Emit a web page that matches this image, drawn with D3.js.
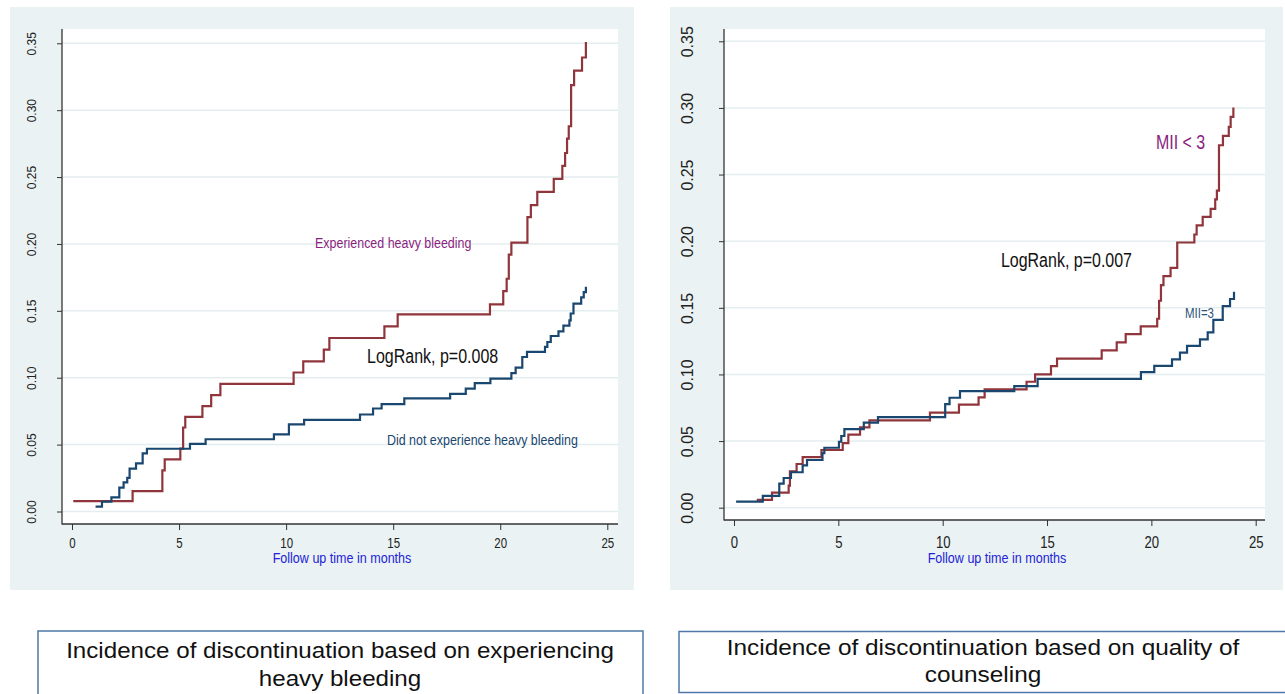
<!DOCTYPE html>
<html>
<head>
<meta charset="utf-8">
<script src="https://cdn.jsdelivr.net/npm/d3@7/dist/d3.min.js"></script>
<style>
  body { margin: 0; background: #fff; }
  svg { display: block; }
  text { font-family: "Liberation Sans", Arial, sans-serif; }
</style>
</head>
<body>
<svg width="1285" height="694"></svg>
<script>
// y ticks and x ticks shared by both graphs
var yTicks = [0, 0.05, 0.10, 0.15, 0.20, 0.25, 0.30, 0.35];
var xTicks = [0, 5, 10, 15, 20, 25];

// left graph: heavy bleeding
var bleedTime = [0.06, 2.83, 4.22, 4.33, 5.06, 5.19, 5.29, 6.09, 6.5, 6.93, 10.35, 10.8, 11.76, 12.02, 14.59, 15.21, 19.52, 20.14, 20.3, 20.4, 20.52, 21.27, 21.43, 21.73, 22.5, 22.9, 23.03, 23.12, 23.2, 23.31, 23.45, 23.82, 24.0];
var bleedInc  = [0.0078, 0.0153, 0.0307, 0.039, 0.047, 0.0628, 0.0708, 0.0787, 0.087, 0.0954, 0.1039, 0.1123, 0.121, 0.1297, 0.1384, 0.1474, 0.1549, 0.1648, 0.174, 0.192, 0.201, 0.220, 0.229, 0.239, 0.2487, 0.2584, 0.268, 0.2787, 0.288, 0.3188, 0.3295, 0.3394, 0.351];
var noBleedTime = [1.1, 1.4, 1.84, 2.21, 2.41, 2.58, 2.69, 2.99, 3.3, 3.5, 5.51, 6.24, 9.43, 10.13, 10.84, 13.45, 14.06, 14.46, 15.52, 17.66, 18.39, 18.81, 19.54, 20.52, 20.72, 21.03, 21.25, 22.09, 22.2, 22.36, 22.72, 22.95, 23.23, 23.29, 23.42, 23.78, 23.9, 24.0];
var noBleedInc  = [0.0036, 0.0073, 0.0106, 0.0178, 0.0218, 0.0252, 0.032, 0.036, 0.0434, 0.0469, 0.0506, 0.054, 0.0576, 0.0651, 0.0685, 0.0725, 0.077, 0.0802, 0.0845, 0.0879, 0.0919, 0.0959, 0.0994, 0.1034, 0.1076, 0.1155, 0.1193, 0.123, 0.1267, 0.1312, 0.1347, 0.139, 0.1429, 0.148, 0.1554, 0.160, 0.164, 0.168];

// right graph: quality of counseling (MII)
var miiLowTime = [1.09, 1.82, 2.62, 2.68, 3.0, 3.29, 4.19, 5.21, 5.48, 6.04, 6.49, 9.39, 10.78, 11.72, 12.01, 14.02, 14.43, 15.19, 15.48, 17.62, 18.34, 18.77, 19.49, 20.28, 20.37, 20.46, 20.58, 20.92, 21.24, 22.06, 22.17, 22.46, 22.84, 23.06, 23.14, 23.24, 23.43, 23.71, 23.8, 23.93];
var miiLowInc  = [0.0058, 0.0113, 0.0165, 0.0273, 0.0328, 0.038, 0.0433, 0.0485, 0.0548, 0.0603, 0.0655, 0.0713, 0.0773, 0.0828, 0.0888, 0.0945, 0.1, 0.1063, 0.1118, 0.118, 0.124, 0.1303, 0.1361, 0.1418, 0.1553, 0.167, 0.1738, 0.18, 0.199, 0.205, 0.2118, 0.2183, 0.2243, 0.2314, 0.238, 0.272, 0.279, 0.2858, 0.2933, 0.3004];
var mii3Time = [0.1, 1.38, 2.17, 2.38, 2.73, 3.29, 3.5, 4.24, 4.33, 5.03, 5.14, 5.29, 6.22, 6.9, 10.12, 10.33, 10.83, 13.43, 14.55, 19.5, 20.14, 20.99, 21.37, 21.71, 22.33, 22.7, 22.97, 23.42, 23.77, 23.96];
var mii3Inc  = [0.0045, 0.0088, 0.018, 0.0223, 0.0266, 0.0318, 0.0358, 0.041, 0.045, 0.0495, 0.0538, 0.059, 0.0638, 0.068, 0.0778, 0.0825, 0.0875, 0.0913, 0.0966, 0.1018, 0.1065, 0.1113, 0.1163, 0.1215, 0.1263, 0.1316, 0.141, 0.1513, 0.1566, 0.162];

var captions = [
  ["Incidence of discontinuation based on experiencing", "heavy bleeding"],
  ["Incidence of discontinuation based on quality of", "counseling"]
];

var red = "#90353b", navy = "#1a476f";
var squeeze = 0.82; // the graphs were squashed sideways in the original
var svg = d3.select("svg");

function zip(t, v) {
  return t.map(function (d, i) { return [d, v[i]]; });
}

function drawPanel(p) {
  var g = svg.append("g");

  // grey graph region and white plot region
  g.append("rect").attr("x", p.bg[0]).attr("y", p.bg[1])
    .attr("width", p.bg[2] - p.bg[0]).attr("height", p.bg[3] - p.bg[1])
    .attr("fill", "#eaf2f3");
  g.append("rect").attr("x", p.plot[0]).attr("y", p.plot[1])
    .attr("width", p.plot[2] - p.plot[0]).attr("height", p.plot[3] - p.plot[1])
    .attr("fill", "#fff");

  var x = d3.scaleLinear().domain([0, 25]).range(p.xr);
  var y = d3.scaleLinear().domain([0, 0.35]).range(p.yr);

  // grid lines
  g.selectAll(".grid").data(yTicks).enter().append("line")
    .attr("x1", p.plot[0]).attr("x2", p.plot[2])
    .attr("y1", function (d) { return y(d); }).attr("y2", function (d) { return y(d); })
    .attr("stroke", "#e4eef0").attr("stroke-width", 1.5);

  // y axis
  var ya = g.append("g").attr("transform", "translate(" + p.plot[0] + ",0)")
    .call(d3.axisLeft(y).tickValues(yTicks).tickSize(5).tickFormat(d3.format(".2f")));
  ya.select(".domain").remove();
  ya.selectAll(".tick line").attr("stroke", "#333");
  ya.selectAll(".tick text")
    .attr("transform", "rotate(-90)")
    .attr("x", 0).attr("y", -p.yLabOff).attr("dy", 0)
    .attr("text-anchor", "middle")
    .attr("font-family", null)
    .attr("font-size", p.yFont).attr("fill", "#222");

  // x axis
  var xa = g.append("g").attr("transform", "translate(0," + p.plot[3] + ")")
    .call(d3.axisBottom(x).tickValues(xTicks).tickSize(6));
  xa.select(".domain").remove();
  xa.selectAll(".tick line").attr("stroke", "#333");
  xa.selectAll(".tick text")
    .attr("transform", "scale(" + squeeze + ",1)")
    .attr("y", p.xLabOff).attr("dy", 0)
    .attr("font-family", null)
    .attr("font-size", p.xFont).attr("fill", "#222");

  g.append("line").attr("x1", p.plot[0]).attr("x2", p.plot[0])
    .attr("y1", p.plot[1]).attr("y2", p.plot[3] + 0.5)
    .attr("stroke", "#333").attr("stroke-width", 1.3);
  g.append("line").attr("x1", p.plot[0]).attr("x2", p.plot[2])
    .attr("y1", p.plot[3]).attr("y2", p.plot[3])
    .attr("stroke", "#333").attr("stroke-width", 1.3);

  g.append("text")
    .attr("transform", "translate(" + p.titleX + "," + p.titleY + ") scale(" + squeeze + ",1)")
    .attr("text-anchor", "middle").attr("font-size", 15.3).attr("fill", "#2323d8")
    .text("Follow up time in months");

  // step curves
  var line = d3.line()
    .x(function (d) { return x(d[0]); })
    .y(function (d) { return y(d[1]); })
    .curve(d3.curveStepAfter);

  p.series.forEach(function (s) {
    g.append("path").datum(zip(s.t, s.v))
      .attr("fill", "none").attr("stroke", s.color)
      .attr("stroke-width", 2.2).attr("d", line);
  });

  p.labels.forEach(function (l) {
    g.append("text")
      .attr("transform", "translate(" + x(l.t) + "," + y(l.v) + ") scale(" + squeeze + ",1)")
      .attr("font-size", l.size).attr("fill", l.color)
      .text(l.text);
  });
}

drawPanel({
  bg: [10, 7, 634, 590], plot: [62, 29, 618, 524],
  xr: [72, 607.3], yr: [511.5, 43.3],
  yFont: 12, yLabOff: 26, xFont: 14, xLabOff: 24, titleX: 342, titleY: 563,
  series: [
    { t: bleedTime, v: bleedInc, color: red },
    { t: noBleedTime, v: noBleedInc, color: navy }
  ],
  labels: [
    { text: "Experienced heavy bleeding", t: 11.35, v: 0.197, size: 15.2, color: "#8a1f80" },
    { text: "LogRank, p=0.008", t: 13.78, v: 0.111, size: 19.5, color: "#111" },
    { text: "Did not experience heavy bleeding", t: 14.71, v: 0.0496, size: 15.2, color: navy }
  ]
});

drawPanel({
  bg: [670, 7, 1283, 590], plot: [724, 29, 1265, 520],
  xr: [734, 1255.7], yr: [507.7, 41.3],
  yFont: 16, yLabOff: 31, xFont: 16, xLabOff: 28, titleX: 997, titleY: 563,
  series: [
    { t: miiLowTime, v: miiLowInc, color: red },
    { t: mii3Time, v: mii3Inc, color: navy }
  ],
  labels: [
    { text: "MII < 3", t: 20.22, v: 0.269, size: 19.5, color: "#8a1f80" },
    { text: "LogRank, p=0.007", t: 12.79, v: 0.181, size: 19.5, color: "#111" },
    { text: "MII=3", t: 21.61, v: 0.142, size: 14, color: "#2e5478" }
  ]
});

// caption boxes under the graphs
var boxes = [
  { x: 38, y: 631, w: 605, h: 80, cx: 340, y1: 658, y2: 686, w1: 548 },
  { x: 679, y: 631.5, w: 620, h: 61, cx: 983, y1: 655, y2: 682, w1: 513 }
];
boxes.forEach(function (b, i) {
  svg.append("rect").attr("x", b.x).attr("y", b.y).attr("width", b.w).attr("height", b.h)
    .attr("fill", "#fff").attr("stroke", "#4f78a8").attr("stroke-width", 1.5);
  var cg = svg.append("g");
  var lines = [[captions[i][0], b.y1], [captions[i][1], b.y2]].map(function (c) {
    return cg.append("text")
      .attr("text-anchor", "middle")
      .attr("font-size", 22).attr("fill", "#111")
      .attr("data-y", c[1])
      .text(c[0]);
  });
  // same sideways squeeze for both lines, set by the width of the first line
  var s = b.w1 / lines[0].node().getComputedTextLength();
  lines.forEach(function (t) {
    t.attr("transform", "translate(" + b.cx + "," + t.attr("data-y") + ") scale(" + s + ",1)");
  });
});
</script>
</body>
</html>
